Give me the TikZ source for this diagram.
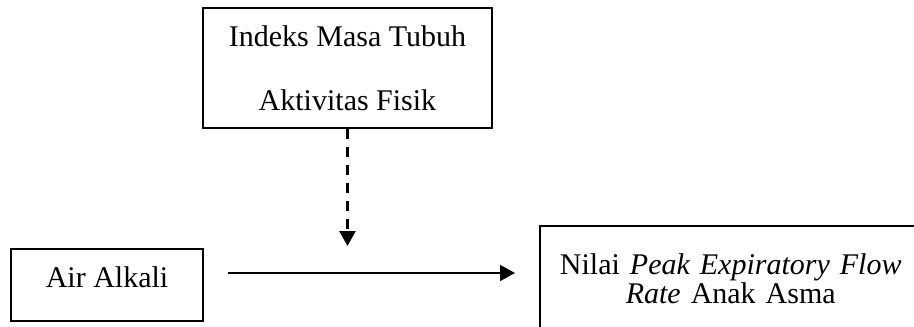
\documentclass[tikz,border=0pt]{standalone}
\usepackage{fontspec}
\setmainfont{Liberation Serif}
\usetikzlibrary{arrows.meta}
\begin{document}
\begin{tikzpicture}[x=1pt,y=-1pt,
  boxstyle/.style={draw, line width=1.5pt, inner sep=0pt},
  arr/.style={line width=2pt, -{Triangle[length=15pt,width=16pt]}},
  dasharr/.style={line width=2.5pt, dash pattern=on 10pt off 8pt, -{Triangle[length=15pt,width=16pt]}}]
\useasboundingbox (0,0) rectangle (914,327);
\node[boxstyle, minimum width=289pt, minimum height=120pt, align=center,
  font=\fontsize{30}{64}\selectfont] (top) at (347.5,68) {Indeks Masa Tubuh\\Aktivitas Fisik};
\node[boxstyle, minimum width=192pt, minimum height=72pt, text height=21pt, text depth=17pt,
  font=\fontsize{30}{36}\selectfont] (alkali) at (107,285) {Air Alkali};
\node[boxstyle, anchor=north west, text width=382pt, align=center, inner xsep=0pt, inner ysep=27.5pt,
  font=\fontsize{30}{29}\selectfont] (nilai) at (539,225) {Nilai \textit{Peak Expiratory Flow}\\\textit{Rate} Anak Asma};
\coordinate (mid) at (347.5,246);
\draw[dasharr] (top.south) -- (mid);
\draw[arr] ([xshift=24pt,yshift=12pt]alkali.east) -- ([xshift=-24pt,yshift=12pt]alkali.east -| nilai.west);
\end{tikzpicture}
\end{document}
